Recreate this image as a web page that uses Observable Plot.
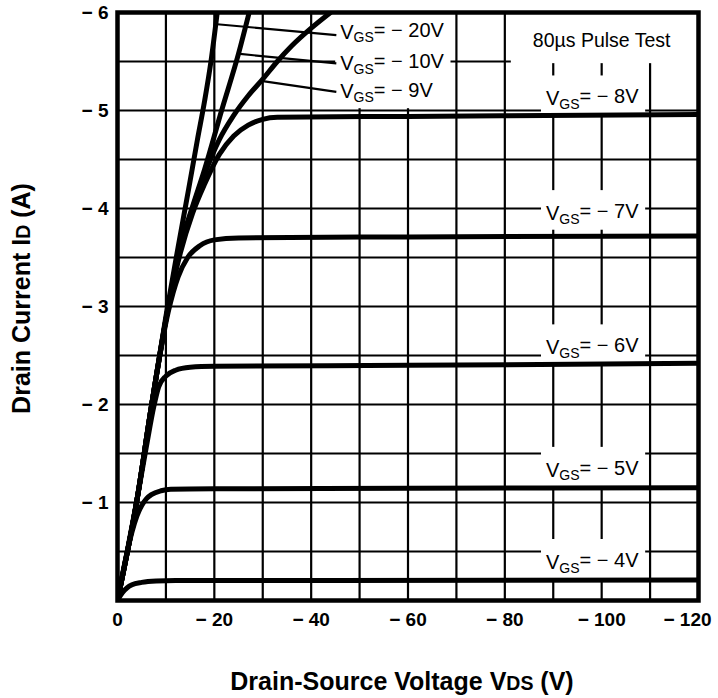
<!DOCTYPE html>
<html><head><meta charset="utf-8">
<script src="https://cdn.jsdelivr.net/npm/d3@7"></script>
<script src="https://cdn.jsdelivr.net/npm/@observablehq/plot@0.6"></script>
<style>
body{margin:0;background:#fff;}
#chart{width:718px;height:698px;}
</style></head><body><div id="chart"></div>
<script>
// ---- axes ----
const xTicks = [0, -20, -40, -60, -80, -100, -120];
const yTicks = [-1, -2, -3, -4, -5, -6];
const xGrid = [-10, -20, -30, -40, -50, -60, -70, -80, -90, -100, -110];
const yGrid = [-0.5, -1, -1.5, -2, -2.5, -3, -3.5, -4, -4.5, -5, -5.5];

// ---- curves: VDS (V) and ID (A) per VGS ----
const vds_4  = [0, -1, -2, -3, -5, -8, -12, -40, -120];
const id_4   = [0, -0.08, -0.13, -0.16, -0.185, -0.2, -0.205, -0.205, -0.21];
const vds_5  = [0, -1.5, -3, -4, -5, -6, -7, -9, -11, -20, -60, -120];
const id_5   = [0, -0.38, -0.7, -0.86, -0.97, -1.04, -1.08, -1.12, -1.135, -1.14, -1.145, -1.15];
const vds_6  = [0, -2, -4, -6, -7.5, -8.5, -10, -12, -15, -20, -60, -120];
const id_6   = [0, -0.5, -1.02, -1.58, -1.98, -2.18, -2.29, -2.35, -2.38, -2.39, -2.4, -2.42];
const vds_7  = [0, -4, -7, -10.5, -12.5, -14.5, -17, -20, -25, -60, -120];
const id_7   = [0, -1.02, -1.98, -2.95, -3.3, -3.5, -3.62, -3.68, -3.7, -3.71, -3.72];
const vds_8  = [0, -4, -7, -10.5, -13, -15.5, -18, -21, -24, -27, -30, -33, -60, -120];
const id_8   = [0, -1.02, -1.98, -3.0, -3.55, -3.95, -4.25, -4.55, -4.74, -4.85, -4.91, -4.93, -4.94, -4.96];
const vds_9  = [0, -4, -7, -10.5, -13, -15.5, -18, -21, -24, -27, -30, -33, -36, -40, -44];
const id_9   = [0, -1.02, -1.98, -3.0, -3.6, -4.0, -4.35, -4.7, -4.95, -5.15, -5.32, -5.5, -5.66, -5.84, -6.0];
const vds_10 = [0, -4, -7, -10.5, -13, -15.5, -18, -21.5, -25, -27.2];
const id_10  = [0, -1.02, -1.98, -3.0, -3.62, -4.02, -4.4, -5.0, -5.58, -6.0];
const vds_20 = [0, -4, -7, -10, -12.5, -14.7, -16.5, -18, -19.3, -20.6];
const id_20  = [0, -1.02, -1.98, -2.9, -3.6, -4.2, -4.7, -5.1, -5.5, -6.0];

// ---- annotations ----
const labelText = ["V_GS_= − 20V", "V_GS_= − 10V", "V_GS_= − 9V", "V_GS_= − 8V",
                   "V_GS_= − 7V", "V_GS_= − 6V", "V_GS_= − 5V", "V_GS_= − 4V"];
const labelV = [-46, -46, -46, -88.5, -88.5, -88.5, -88.5, -88.5];
const labelI = [-5.80, -5.48, -5.19, -5.12, -3.95, -2.58, -1.33, -0.39];
const noteText = ["80µs Pulse Test"];
const noteV = [-100];
const noteI = [-5.71];
const leaderFromV = [-20.6, -24.8, -30.0];
const leaderFromI = [-5.88, -5.58, -5.30];
const leaderToV = [-45.2, -45.2, -45.2];
const leaderToI = [-5.77, -5.48, -5.19];
const xTitle = "Drain-Source Voltage V_DS_ (V)";
const yTitle = "Drain Current I_D_ (A)";

const series = [
  {g: "-4", v: vds_4, i: id_4}, {g: "-5", v: vds_5, i: id_5},
  {g: "-6", v: vds_6, i: id_6}, {g: "-7", v: vds_7, i: id_7},
  {g: "-8", v: vds_8, i: id_8}, {g: "-9", v: vds_9, i: id_9},
  {g: "-10", v: vds_10, i: id_10}, {g: "-20", v: vds_20, i: id_20}
];
const rows = series.flatMap(s => s.v.map((v, k) => ({g: s.g, v, i: s.i[k]})));
const labels = labelText.map((t, k) => ({t, v: labelV[k], i: labelI[k]}));
const notes = noteText.map((t, k) => ({t, v: noteV[k], i: noteI[k]}));
const leaders = leaderFromV.map((v, k) => ({v1: v, i1: leaderFromI[k], v2: leaderToV[k], i2: leaderToI[k]}));

const fmt = d => d === 0 ? "0" : "\u2212 " + Math.abs(d);
const FONT = "'Liberation Sans', Arial, Helvetica, sans-serif";

const plot = Plot.plot({
  width: 718, height: 698,
  marginLeft: 117, marginRight: 20, marginTop: 12, marginBottom: 98,
  style: {fontFamily: FONT, fontSize: "18px", color: "#000", background: "#fff", overflow: "visible"},
  x: {domain: [0, -120]},
  y: {domain: [0, -6]},
  marks: [
    Plot.ruleX(xGrid, {stroke: "#000", strokeWidth: 2.2}),
    Plot.ruleY(yGrid, {stroke: "#000", strokeWidth: 2.2}),
    Plot.axisX({ticks: xTicks, tickFormat: fmt, tickSize: 0, tickPadding: 12, label: null,
                fontSize: 19, fontWeight: "bold", fill: "#000"}),
    Plot.axisY({ticks: yTicks, tickFormat: fmt, tickSize: 0, tickPadding: 9, label: null,
                fontSize: 19, fontWeight: "bold", fill: "#000"}),
    Plot.text(labels, {x: "v", y: "i", text: "t", textAnchor: "start", fill: "#000", fontSize: 20}),
    Plot.text(notes, {x: "v", y: "i", text: "t", textAnchor: "middle", fill: "#000", fontSize: 19.5}),
    Plot.link(leaders, {x1: "v1", y1: "i1", x2: "v2", y2: "i2", stroke: "#000", strokeWidth: 2.2}),
    Plot.line(rows, {x: "v", y: "i", z: "g", stroke: "#000", strokeWidth: 5, curve: "monotone-x", clip: true}),
    Plot.frame({stroke: "#000", strokeWidth: 4.5}),
    Plot.text([xTitle], {frameAnchor: "bottom", dy: 89, dx: -6, text: d => d, fontSize: 25, fontWeight: "bold", fill: "#000"}),
    Plot.text([yTitle], {frameAnchor: "left", textAnchor: "middle", dx: -96, dy: -8, rotate: -90, text: d => d, fontSize: 25, fontWeight: "bold", fill: "#000"})
  ]
});
document.getElementById("chart").appendChild(plot);

// subscripts / small caps and white label boxes
d3.select(plot).selectAll("text").each(function() {
  const t = this.textContent;
  if (t === "\u2212 120") this.setAttribute("dx", "-11");
  if (!t.includes("_")) return;
  const parts = t.split("_");
  const isTitle = t.startsWith("Drain");
  const base = parseFloat(getComputedStyle(this).fontSize) || 18;
  this.textContent = "";
  parts.forEach((p, k) => {
    const ts = d3.select(this).append("tspan").text(p);
    if (k % 2 === 1) {
      ts.attr("font-size", isTitle ? base * 0.78 : base * 0.7);
      if (!isTitle) ts.attr("dy", "0.28em");
    } else if (k > 0 && !isTitle) {
      ts.attr("dy", "-0.28em").attr("font-size", base);
    }
  });
});
d3.select(plot).selectAll("text").each(function() {
  const t = this.textContent;
  const isLabel = t.startsWith("VGS");
  const isNote = t.startsWith("80");
  if (!isLabel && !isNote) return;
  const b = this.getBBox();
  const pad = isNote ? {l: 22, r: 40, t: 30, b: 12} : {l: 5, r: 6, t: 10, b: 3};
  const parent = this.parentNode;
  const r = document.createElementNS("http://www.w3.org/2000/svg", "rect");
  r.setAttribute("x", b.x - pad.l);
  r.setAttribute("y", b.y - pad.t);
  r.setAttribute("width", b.width + pad.l + pad.r);
  r.setAttribute("height", b.height + pad.t + pad.b);
  r.setAttribute("fill", "#fff");
  const tr = this.getAttribute("transform");
  if (tr) r.setAttribute("transform", tr);
  parent.insertBefore(r, parent.firstChild);
});
</script>
</body></html>
